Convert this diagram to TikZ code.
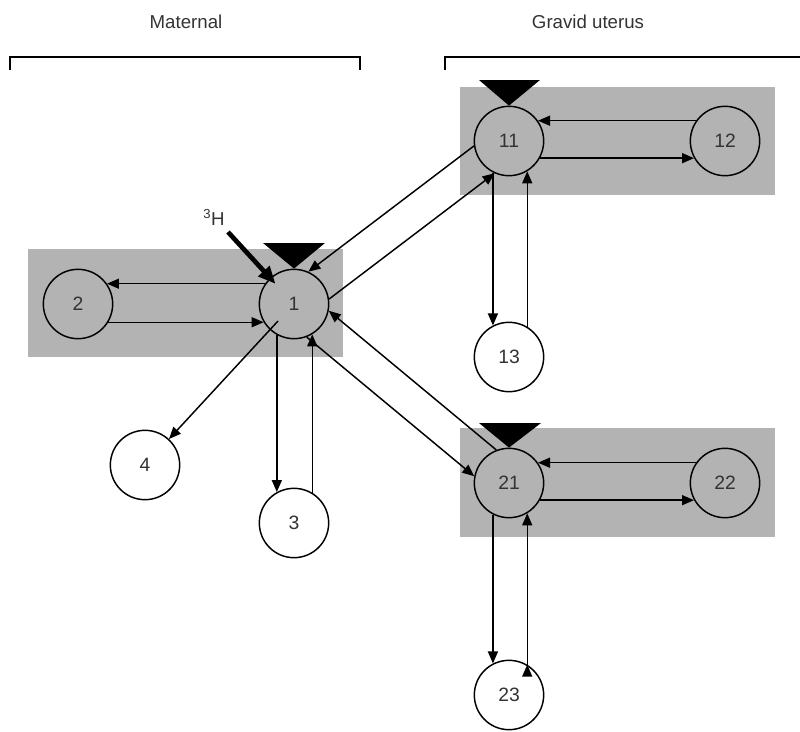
\documentclass[tikz,border=0pt]{standalone}
\usepackage{fontspec}
\setmainfont{Liberation Sans}
\usepackage{tikz}
\usetikzlibrary{arrows.meta, positioning}
\definecolor{boxgray}{HTML}{B3B3B3}
\definecolor{inkgray}{HTML}{333333}
\tikzset{
->, % every connector is directed
>={Triangle[length=9pt,width=7.5pt]}, % filled arrow heads
comp/.style={circle, draw, line width=1.1pt, fill=boxgray, minimum size=52pt, inner sep=0pt, font=\fontsize{14.5}{15}\selectfont, text=inkgray}, % compartment inside a box
sink/.style={comp, fill=white}, % compartment outside a box
marker/.style={fill=black, draw=none}, % black triangle above a compartment
heading/.style={font=\fontsize{14}{16}\selectfont, text=inkgray}, % group titles
}
\begin{document}
\begin{tikzpicture}[x=0.75pt, y=-0.75pt, line width=1.1pt]
                \useasboundingbox (0,0) rectangle (800,732);
                % grey boxes
                \fill[boxgray] (28,249) rectangle (343,357);
                \fill[boxgray] (460,87) rectangle (775,195);
                \fill[boxgray] (460,428) rectangle (775,537);
                % headings and brackets
                \node[heading] (maternal) at (186,22) {Maternal};
                \node[heading] (uterus) at (588,22) {Gravid uterus};
                \draw[-, line width=0.9pt] (10,70) -- (10,57) -- (360,57) -- (360,70);
                \draw[-, line width=0.9pt] (445,70) -- (445,57) -- (800,57);
                % compartments
                \node[comp] (c1) at (294,304) {1};
                \node[comp] (c2) at (78,304) {2};
                \node[sink] (c3) at (294,523) {3};
                \node[sink] (c4) at (145,465) {4};
                \node[comp] (c11) at (509,141) {11};
                \node[comp] (c12) at (725,141) {12};
                \node[sink] (c13) at (509,357) {13};
                \node[comp] (c21) at (509,483) {21};
                \node[comp] (c22) at (725,483) {22};
                \node[sink] (c23) at (509,695) {23};
                % triangles
                \fill[marker] (263,243) -- (325,243) -- (c1.north) -- cycle;
                \fill[marker] (479,80) -- (540,80) -- (c11.north) -- cycle;
                \fill[marker] (479,423) -- (541,423) -- (c21.north) -- cycle;
                % tracer input
                \node[heading] (tritium) at (214,217) {\textsuperscript{3}H};
                \coordinate (h3start) at (228,232);
                \coordinate (c1inner) at (278,321);
                \draw[line width=3.5pt, -{Triangle[length=13pt,width=11pt]}, shorten >=-6pt] (h3start) -- (c1);
                \draw
                    (c1.145) edge (c2.35)
                    (c2.-31) edge (c1.-149)
                    (c1inner) edge (c4)
                    (c1.-119) edge (c3.119)
                    (c3.59) edge (c1.-59)
                    (c11.188) edge (c1.66)
                    (c1.8) edge (c11.246)
                    (c21.111) edge (c1.-11)
                    (c1.-69) edge (c21.169)
                    (c12.145) edge (c11.35)
                    (c11.-29) edge (c12.-151)
                    (c11.-117) edge (c13.117)
                    (c13.59) edge (c11.-59)
                    (c22.145) edge (c21.35)
                    (c21.-29) edge (c22.-151)
                    (c21.-117) edge (c23.117)
                    (c23.59) edge (c21.-59)
                    ;
                \end{tikzpicture}
\end{document}
